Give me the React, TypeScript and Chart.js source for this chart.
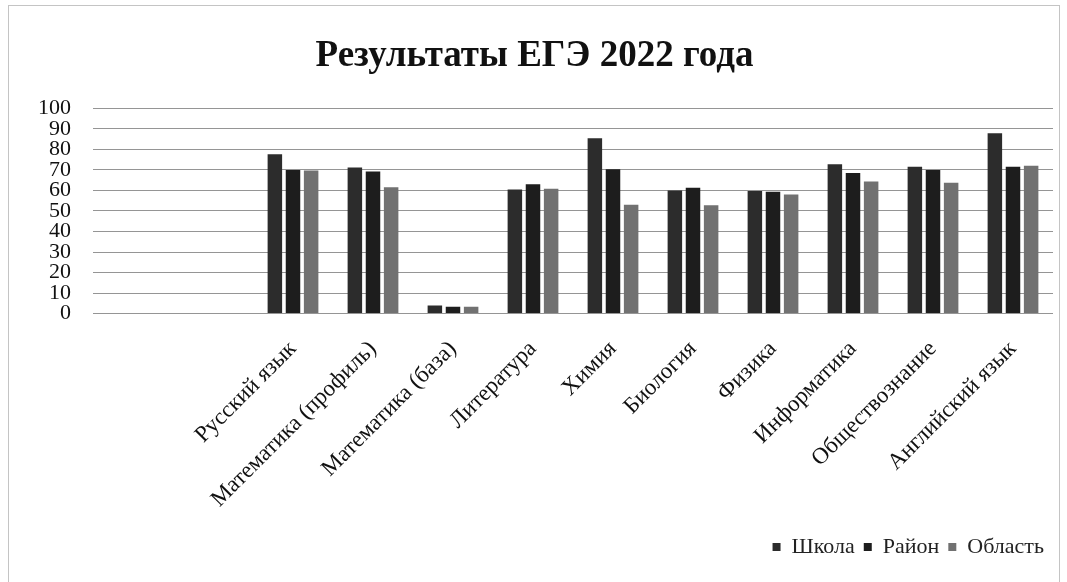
import React, { useEffect, useRef } from "react";
import { Chart, registerables } from "chart.js";

Chart.register(...registerables);

const titleText = "Результаты ЕГЭ 2022 года";
const categories = [
  "",
  "",
  "Русский язык",
  "Математика (профиль)",
  "Математика (база)",
  "Литература",
  "Химия",
  "Биология",
  "Физика",
  "Информатика",
  "Обществознание",
  "Английский язык",
];
const seriesNames = ["Школа", "Район", "Область"];
const school = [null, null, 77.6, 71.2, 4, 60.5, 85.5, 60, 59.7, 72.8, 71.6, 87.9];
const district = [null, null, 70, 69.3, 3.3, 63, 70.3, 61.3, 59.4, 68.5, 70, 71.6];
const region = [null, null, 69.7, 61.6, 3.3, 60.8, 53, 52.8, 58, 64.4, 63.8, 72];
const seriesColors = ["#2c2c2c", "#1d1d1d", "#717171"];
const yMin = 0;
const yMax = 100;
const yStep = 10;

const FONT = "'Liberation Serif', 'Times New Roman', serif";

export default function App() {
  const ref = useRef<HTMLCanvasElement | null>(null);

  useEffect(() => {
    document.body.style.margin = "0";
    const ctx = ref.current;
    if (!ctx) return;
    const values = [school, district, region];
    const chart = new Chart(ctx, {
      type: "bar",
      data: {
        labels: categories,
        datasets: seriesNames.map((name, i) => ({
          label: name,
          data: values[i],
          backgroundColor: seriesColors[i],
          borderWidth: 0,
          categoryPercentage: 0.68,
          barPercentage: 0.8,
        })),
      },
      options: {
        animation: false,
        responsive: false,
        maintainAspectRatio: false,
        layout: { padding: { left: 16, right: 14, top: 34, bottom: 14 } },
        plugins: {
          title: {
            display: true,
            text: titleText,
            color: "#111",
            font: { family: FONT, size: 37, weight: "bold", lineHeight: 1.2 },
            padding: { top: 0, bottom: 30 },
          },
          legend: {
            position: "bottom",
            align: "end",
            labels: {
              color: "#222",
              boxWidth: 8,
              boxHeight: 8,
              padding: 9,
              font: { family: FONT, size: 22 },
            },
          },
          tooltip: { enabled: false },
        },
        scales: {
          x: {
            grid: { display: false },
            border: { display: false },
            ticks: {
              color: "#111",
              autoSkip: false,
              maxRotation: 45,
              minRotation: 45,
              padding: 14,
              font: { family: FONT, size: 23 },
            },
          },
          y: {
            min: yMin,
            max: yMax,
            grid: { color: "#959595", lineWidth: 1, drawTicks: false },
            border: { display: false },
            ticks: {
              stepSize: yStep,
              autoSkip: false,
              color: "#111",
              padding: 22,
              font: { family: FONT, size: 22, lineHeight: 0.9 },
            },
          },
        },
      },
    });
    return () => chart.destroy();
  }, []);

  return (
    <div style={{ position: "relative", width: 1067, height: 582, background: "#fff" }}>
      <div
        style={{
          position: "absolute",
          left: 8,
          top: 5,
          width: 1052,
          height: 590,
          border: "1px solid #c4c4c4",
          borderBottom: "none",
          boxSizing: "border-box",
        }}
      />
      <canvas ref={ref} width={1067} height={582} style={{ position: "absolute", left: 0, top: 0 }} />
    </div>
  );
}
